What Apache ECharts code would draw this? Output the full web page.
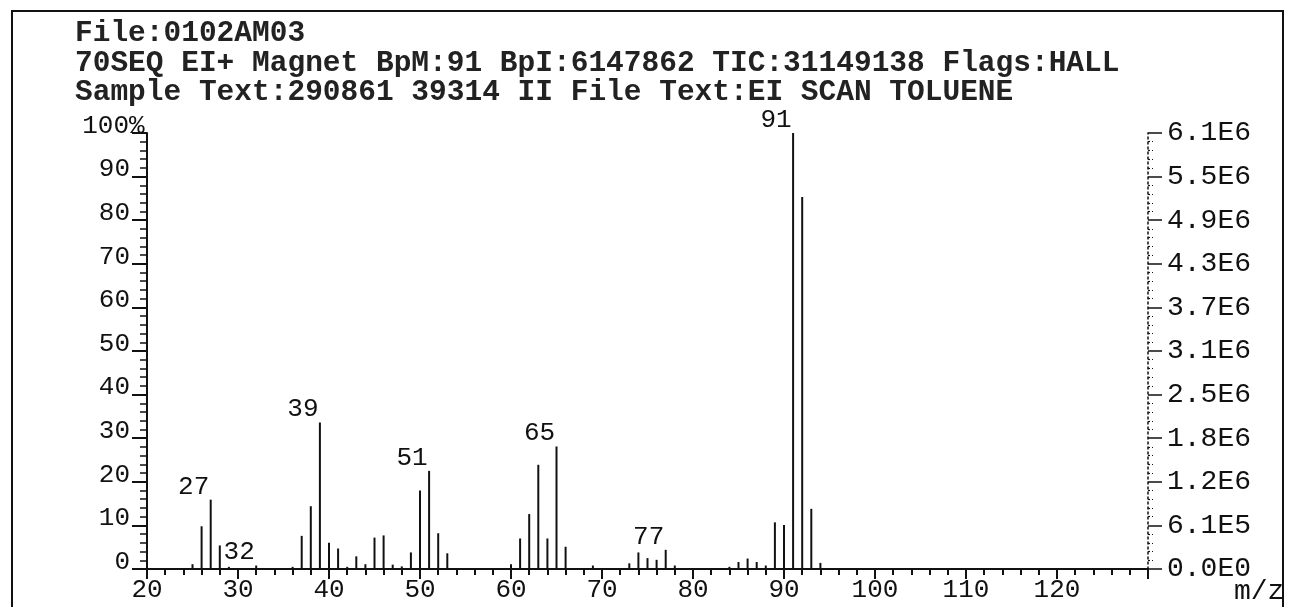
<!DOCTYPE html>
<html>
<head>
<meta charset="utf-8">
<script src="https://cdn.jsdelivr.net/npm/echarts@6/dist/echarts.min.js"></script>
<style>
  html, body { margin: 0; padding: 0; background: #fff; }
  #chart { width: 1294px; height: 607px; }
</style>
</head>
<body>
<div id="chart"></div>
<script>
// ---- data ----
const titleLines = [
  'File:0102AM03',
  '70SEQ EI+ Magnet BpM:91 BpI:6147862 TIC:31149138 Flags:HALL',
  'Sample Text:290861 39314 II File Text:EI SCAN TOLUENE'
];
const mzValues = [25,26,27,28,29,32,36,37,38,39,40,41,42,43,44,45,46,47,48,49,50,51,52,53,
                  60,61,62,63,64,65,66,69,73,74,75,76,77,78,84,85,86,87,88,89,90,91,92,93,94];
const relIntensity = [1.1,9.8,15.9,5.4,0.5,0.8,0.5,7.6,14.4,33.6,6.0,4.7,0.5,2.9,1.1,7.2,7.7,1.0,0.6,3.8,18.0,22.5,8.2,3.6,
                      1.1,7.0,12.6,23.9,7.0,28.1,5.1,0.8,1.3,3.8,2.5,2.1,4.4,0.8,0.5,1.6,2.4,1.6,0.8,10.7,10.1,100,85.3,13.8,1.4];
const labeledPeaks = [27, 32, 39, 51, 65, 77, 91];
const rightTickLabels = ['0.0E0','6.1E5','1.2E6','1.8E6','2.5E6','3.1E6','3.7E6','4.3E6','4.9E6','5.5E6','6.1E6'];
const xTickMax = 120;

// ---- chart ----
const INK = '#111';
const FONT = "'Liberation Mono', 'DejaVu Sans Mono', monospace";
const chart = echarts.init(document.getElementById('chart'), null, { renderer: 'canvas' });

const seriesData = mzValues.map((m, i) => {
  const item = { value: [m, relIntensity[i]] };
  if (labeledPeaks.includes(m)) item.label = { show: true };
  return item;
});

chart.setOption({
  backgroundColor: '#fff',
  animation: false,
  title: {
    text: titleLines.join('\n'),
    left: 75, top: 19, padding: 0,
    textStyle: { fontFamily: FONT, fontSize: 29.5, fontWeight: 'bold', color: '#222', lineHeight: 29.5 }
  },
  grid: { left: 147, right: 146, top: 133, bottom: 38, containLabel: false, outerBoundsMode: 'none' },
  xAxis: {
    type: 'value', min: 20, max: 130, interval: 10,
    name: 'm/z', nameLocation: 'end', nameGap: 86, nameMoveOverlap: false,
    nameTextStyle: { fontFamily: FONT, fontSize: 28, color: INK, align: 'left', verticalAlign: 'top', padding: [9, 0, 0, 0] },
    axisLine: { show: true, onZero: false, lineStyle: { color: INK, width: 2 } },
    axisTick: { show: true, inside: false, length: 10, lineStyle: { color: INK, width: 2 } },
    minorTick: { show: true, splitNumber: 5, length: 6, lineStyle: { color: INK, width: 2 } },
    splitLine: { show: false },
    axisLabel: {
      fontFamily: FONT, fontSize: 26, color: INK, margin: 8,
      formatter: v => (v <= xTickMax ? String(v) : '')
    }
  },
  yAxis: [
    {
      type: 'value', min: 0, max: 100, interval: 10, position: 'left',
      axisLine: { show: true, lineStyle: { color: INK, width: 2 } },
      axisTick: { show: true, inside: false, length: 15, lineStyle: { color: INK, width: 2 } },
      minorTick: { show: true, splitNumber: 5, length: 7, lineStyle: { color: INK, width: 1.5 } },
      splitLine: { show: false },
      axisLabel: {
        fontFamily: FONT, fontSize: 26, color: INK, margin: 17,
        verticalAlign: 'middle', padding: [0, 0, 14, 0],
        formatter: v => (v === 100 ? '{a|100}{p|%}' : String(v)),
        rich: {
          a: { fontFamily: FONT, fontSize: 26, color: INK, align: 'left' },
          p: { fontFamily: FONT, fontSize: 26, color: INK, width: 1, align: 'left' }
        }
      }
    },
    {
      type: 'value', min: 0, max: 100, interval: 10, position: 'right',
      axisLine: { show: true, lineStyle: { color: INK, width: 1.5, type: [2, 3] } },
      axisTick: { show: true, inside: false, length: 14, lineStyle: { color: INK, width: 1.5 } },
      minorTick: { show: true, splitNumber: 5, length: 5, lineStyle: { color: INK, width: 1.2, type: [2, 2] } },
      splitLine: { show: false },
      axisLabel: {
        fontFamily: FONT, fontSize: 28, color: INK, margin: 19,
        verticalAlign: 'middle', padding: [0, 0, 14, 0],
        formatter: v => rightTickLabels[Math.round(v / 10)]
      }
    }
  ],
  series: [{
    type: 'bar',
    xAxisIndex: 0, yAxisIndex: 0,
    barWidth: 2,
    itemStyle: { color: INK },
    label: {
      show: false, position: 'top', distance: 5, offset: [-17, 5],
      fontFamily: FONT, fontSize: 26, color: INK,
      formatter: p => String(p.value[0])
    },
    data: seriesData
  }],
  graphic: [{
    type: 'rect', silent: true,
    shape: { x: 12, y: 11, width: 1271, height: 610 },
    style: { fill: null, stroke: INK, lineWidth: 2 }
  }]
});
</script>
</body>
</html>
